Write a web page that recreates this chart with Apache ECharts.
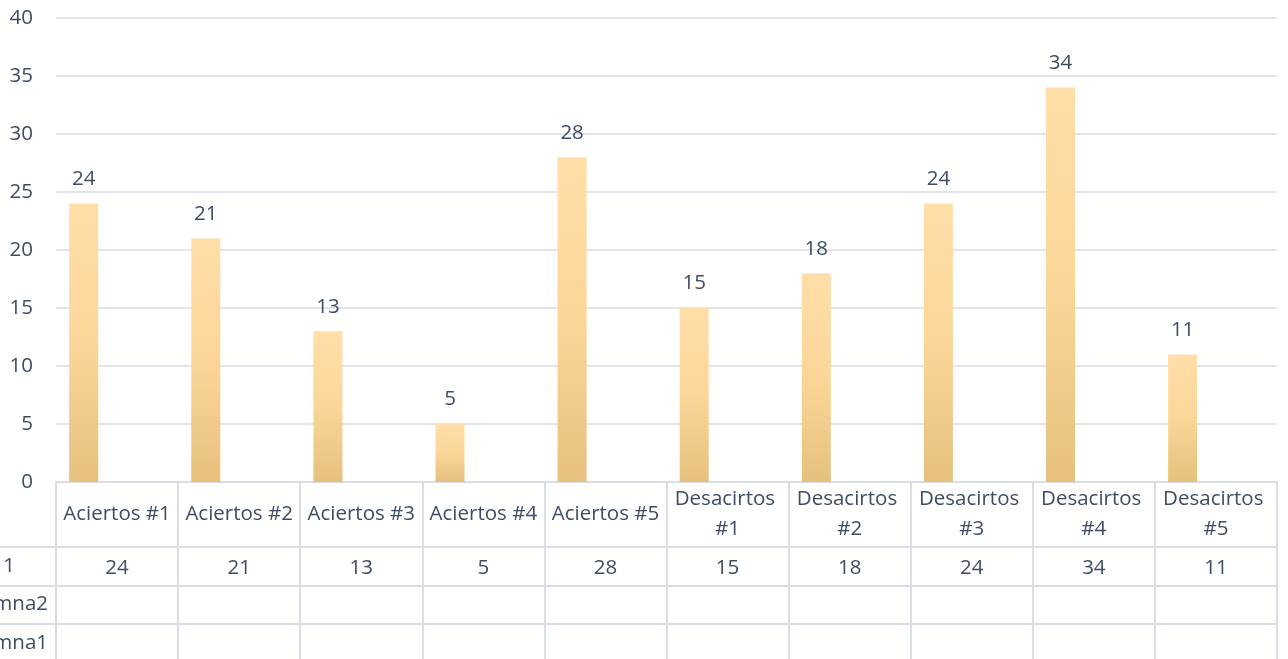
<!DOCTYPE html>
<html>
<head>
<meta charset="utf-8">
<script src="https://cdn.jsdelivr.net/npm/echarts@6/dist/echarts.min.js"></script>
<style>
html,body{margin:0;padding:0;background:#fff;}
#c{width:1288px;height:659px;}
</style>
</head>
<body>
<div id="c"></div>
<script>
var categories = ['Aciertos #1','Aciertos #2','Aciertos #3','Aciertos #4','Aciertos #5','Desacirtos #1','Desacirtos #2','Desacirtos #3','Desacirtos #4','Desacirtos #5'];
var values = [24, 21, 13, 5, 28, 15, 18, 24, 34, 11];
var rowLabels = ['1', 'Columna2', 'Columna1'];
var yTicks = [0, 5, 10, 15, 20, 25, 30, 35, 40];

var FONT = 'Open Sans';
var TXT = '#3E4D63';
var LINE = '#D9DEE6';
var FS = 20.5;

var chart = echarts.init(document.getElementById('c'), null, {renderer: 'canvas'});

var barGrad = new echarts.graphic.LinearGradient(0, 0, 0, 1, [
  {offset: 0, color: '#FFDEA8'},
  {offset: 0.5, color: '#FCD698'},
  {offset: 1, color: '#E6C07C'}
]);

var tableData = values.map(function (v, i) { return [categories[i], rowLabels[0], v]; });

var option = {
  animation: false,
  backgroundColor: '#ffffff',
  textStyle: {fontFamily: FONT},
  grid: [
    {left: 56, right: 11, top: 18, height: 464, containLabel: false, outerBoundsMode: 'none'},
    {left: 56, right: 11, top: 547, height: 115, containLabel: false, outerBoundsMode: 'none'}
  ],
  xAxis: [
    {
      type: 'category', gridIndex: 0, data: categories, boundaryGap: true,
      axisLine: {show: true, lineStyle: {color: LINE, width: 2}},
      axisTick: {show: true, alignWithLabel: false, length: 180, lineStyle: {color: LINE, width: 2}},
      axisLabel: {
        show: true, interval: 0, color: TXT, fontFamily: FONT, fontSize: FS,
        lineHeight: 30, width: 116, overflow: 'break', margin: 32.5, verticalAlign: 'middle', align: 'center'
      },
      splitLine: {show: false}
    },
    {
      type: 'category', gridIndex: 1, data: categories, boundaryGap: true,
      axisLine: {show: false}, axisTick: {show: false}, axisLabel: {show: false}, splitLine: {show: false}
    }
  ],
  yAxis: [
    {
      type: 'value', gridIndex: 0, min: yTicks[0], max: yTicks[yTicks.length - 1], interval: 5,
      axisLine: {show: false}, axisTick: {show: false},
      axisLabel: {color: TXT, fontFamily: FONT, fontSize: FS, margin: 23},
      splitLine: {show: true, lineStyle: {color: LINE, width: 1.5}}
    },
    {
      type: 'category', gridIndex: 1, data: rowLabels, inverse: true, boundaryGap: true,
      axisLine: {show: true, lineStyle: {color: LINE, width: 2}},
      axisTick: {show: true, alignWithLabel: false, length: 56, lineStyle: {color: LINE, width: 2}},
      axisLabel: {
        color: TXT, fontFamily: FONT, fontSize: FS, margin: 8, align: 'right',
        formatter: function (v, i) { return i === 0 ? '{p|' + v + '}' : v; },
        rich: {p: {color: TXT, fontFamily: FONT, fontSize: FS, padding: [0, 33, 0, 0]}}
      },
      splitLine: {show: true, lineStyle: {color: LINE, width: 2}}
    }
  ],
  series: [
    {
      name: rowLabels[0], type: 'bar', xAxisIndex: 0, yAxisIndex: 0,
      data: values, barWidth: 29, barGap: '15%',
      itemStyle: {color: barGrad},
      label: {show: true, position: 'top', distance: 14, color: TXT, fontFamily: FONT, fontSize: FS}
    },
    {name: rowLabels[1], type: 'bar', xAxisIndex: 0, yAxisIndex: 0, data: values.map(function () { return null; }), barWidth: 29, barGap: '15%'},
    {name: rowLabels[2], type: 'bar', xAxisIndex: 0, yAxisIndex: 0, data: values.map(function () { return null; }), barWidth: 29, barGap: '15%'},
    {
      type: 'scatter', xAxisIndex: 1, yAxisIndex: 1, data: tableData, symbolSize: 0,
      itemStyle: {opacity: 1},
      label: {
        show: true, position: 'inside', offset: [0, 2], color: TXT, fontFamily: FONT, fontSize: FS,
        formatter: function (p) { return String(p.value[2]); }
      }
    }
  ]
};
chart.setOption(option);
</script>
</body>
</html>
